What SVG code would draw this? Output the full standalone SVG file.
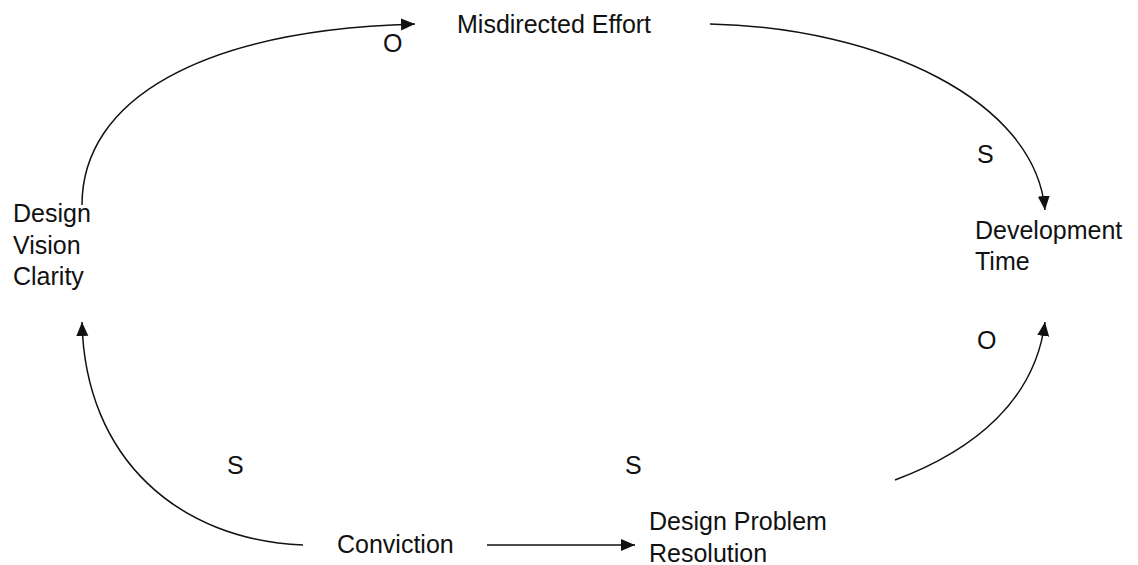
<svg xmlns="http://www.w3.org/2000/svg" width="1138" height="565" viewBox="0 0 1138 565">
  <style>
    text { font-family: "Liberation Sans", Arial, sans-serif; font-size: 25px; fill: #111; }
    .edge { fill: none; stroke: #111; stroke-width: 1.5; marker-end: url(#arrow); }
  </style>
  <defs>
    <marker id="arrow" markerUnits="userSpaceOnUse" markerWidth="15" markerHeight="13" refX="14" refY="6" orient="auto">
      <path d="M0,0 L14,6 L0,12 z" fill="#111"/>
    </marker>
  </defs>
  <rect width="1138" height="565" fill="#fff"/>

  <g id="connectors">
    <g id="e-vision-effort">
      <path class="edge" d="M82,205 C82,100 200,30 415,24"/>
      <text x="383" y="52">O</text>
    </g>
    <g id="e-effort-time">
      <path class="edge" d="M710,24 C880,28 1035,100 1045,210"/>
      <text x="977" y="163">S</text>
    </g>
    <g id="e-resolution-time">
      <path class="edge" d="M895,480 C975,450 1035,400 1045,322"/>
      <text x="977" y="349">O</text>
    </g>
    <g id="e-conviction-vision">
      <path class="edge" d="M303,545 C180,540 85,460 82,322"/>
      <text x="227" y="474">S</text>
    </g>
    <g id="e-conviction-resolution">
      <path class="edge" d="M487,545 L635,545"/>
      <text x="625" y="474">S</text>
    </g>
  </g>

  <g id="node-misdirected-effort">
    <text x="457" y="33">Misdirected Effort</text>
  </g>
  <g id="node-design-vision-clarity">
    <text x="13" y="222">Design</text>
    <text x="13" y="254">Vision</text>
    <text x="13" y="285">Clarity</text>
  </g>
  <g id="node-development-time">
    <text x="975" y="239">Development</text>
    <text x="975" y="270">Time</text>
  </g>
  <g id="node-conviction">
    <text x="337" y="553">Conviction</text>
  </g>
  <g id="node-design-problem-resolution">
    <text x="649" y="530">Design Problem</text>
    <text x="649" y="562">Resolution</text>
  </g>
</svg>
